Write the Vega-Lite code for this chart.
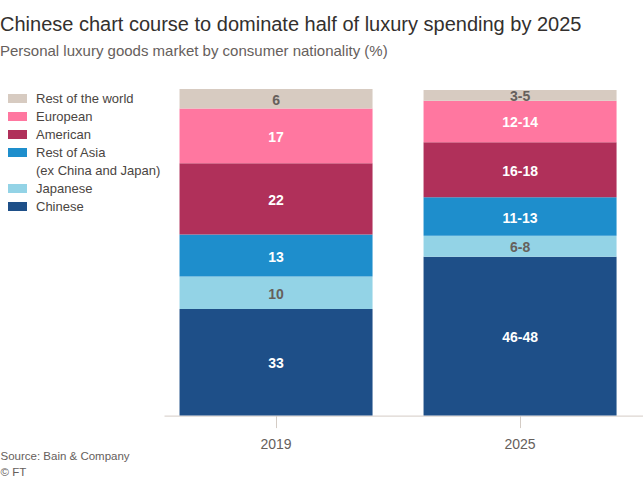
{
  "$schema": "https://vega.github.io/schema/vega-lite/v6.json",
  "autosize": "none",
  "width": 479,
  "height": 326.6,
  "padding": {"left": 164, "top": 89, "right": 0, "bottom": 65.4},
  "background": "white",
  "title": {
    "text": "Chinese chart course to dominate half of luxury spending by 2025",
    "subtitle": "Personal luxury goods market by consumer nationality (%)",
    "anchor": "start",
    "frame": "group",
    "dx": -164,
    "offset": 30,
    "font": "Liberation Sans",
    "fontSize": 20,
    "fontWeight": "normal",
    "color": "#33302e",
    "subtitleFont": "Liberation Sans",
    "subtitleFontSize": 15,
    "subtitleColor": "#66605c",
    "subtitlePadding": 9
  },
  "data": {
    "values": [
      {"year": "2019", "nat": "Chinese", "v": 33, "label": "33", "o": 1},
      {"year": "2019", "nat": "Japanese", "v": 10, "label": "10", "o": 2},
      {"year": "2019", "nat": "Rest of Asia", "v": 13, "label": "13", "o": 3},
      {"year": "2019", "nat": "American", "v": 22, "label": "22", "o": 4},
      {"year": "2019", "nat": "European", "v": 17, "label": "17", "o": 5},
      {"year": "2019", "nat": "Rest of the world", "v": 6, "label": "6", "o": 6},
      {"year": "2025", "nat": "Chinese", "v": 49.1, "label": "46-48", "o": 1},
      {"year": "2025", "nat": "Japanese", "v": 6.5, "label": "6-8", "o": 2},
      {"year": "2025", "nat": "Rest of Asia", "v": 11.9, "label": "11-13", "o": 3},
      {"year": "2025", "nat": "American", "v": 17, "label": "16-18", "o": 4},
      {"year": "2025", "nat": "European", "v": 12.9, "label": "12-14", "o": 5},
      {"year": "2025", "nat": "Rest of the world", "v": 3.3, "label": "3-5", "o": 6}
    ]
  },
  "transform": [
    {"stack": "v", "groupby": ["year"], "sort": [{"field": "o", "order": "ascending"}], "as": ["y0", "y1"]},
    {"calculate": "(datum.y0 + datum.y1) / 2", "as": "mid"}
  ],
  "encoding": {
    "x": {
      "field": "year",
      "type": "ordinal",
      "scale": {"paddingInner": 0.209, "paddingOuter": 0.086, "align": 0.37},
      "axis": {
        "labelAngle": 0,
        "labelFont": "Liberation Sans",
        "labelFontSize": 14,
        "labelColor": "#66605c",
        "labelPadding": 10,
        "tickSize": 12,
        "tickColor": "#d4ccc5",
        "domainColor": "#d4ccc5",
        "grid": false,
        "title": ["Source: Bain & Company", "© FT"],
        "titleX": -164,
        "titleY": 34.5,
        "titleAlign": "left",
        "titleBaseline": "top",
        "titleFont": "Liberation Sans",
        "titleFontSize": 11.5,
        "titleFontWeight": "normal",
        "titleColor": "#66605c",
        "titleLineHeight": 16
      }
    }
  },
  "layer": [
    {
      "mark": {"type": "bar"},
      "encoding": {
        "y": {"field": "y1", "type": "quantitative", "scale": {"domain": [0, 101], "nice": false}, "axis": null},
        "y2": {"field": "y0"},
        "color": {
          "field": "nat",
          "type": "nominal",
          "scale": {
            "domain": ["Rest of the world", "European", "American", "Rest of Asia", "(ex China and Japan)", "Japanese", "Chinese"],
            "range": ["#d7cbc1", "#ff77a0", "#b0305a", "#1e8ecc", "rgba(0,0,0,0)", "#93d3e6", "#1e4f88"]
          },
          "legend": {
            "title": null,
            "orient": "none",
            "legendX": -156,
            "legendY": 0,
            "padding": 0,
            "symbolType": "M-1,-0.4737H1V0.4737H-1Z",
            "symbolSize": 361,
            "symbolStrokeWidth": 0,
            "labelFont": "Liberation Sans",
            "labelFontSize": 13,
            "labelColor": "#4a4542",
            "labelOffset": 9,
            "rowPadding": 1,
            "labelLimit": 200
          }
        }
      }
    },
    {
      "mark": {"type": "text", "font": "Liberation Sans", "fontSize": 14, "fontWeight": "bold", "baseline": "middle", "dy": 2},
      "encoding": {
        "y": {"field": "mid", "type": "quantitative"},
        "text": {"field": "label"},
        "color": {
          "condition": {"test": "datum.nat == 'Rest of the world' || datum.nat == 'Japanese'", "value": "#66605c"},
          "value": "white"
        }
      }
    }
  ],
  "config": {"view": {"stroke": null}}
}
